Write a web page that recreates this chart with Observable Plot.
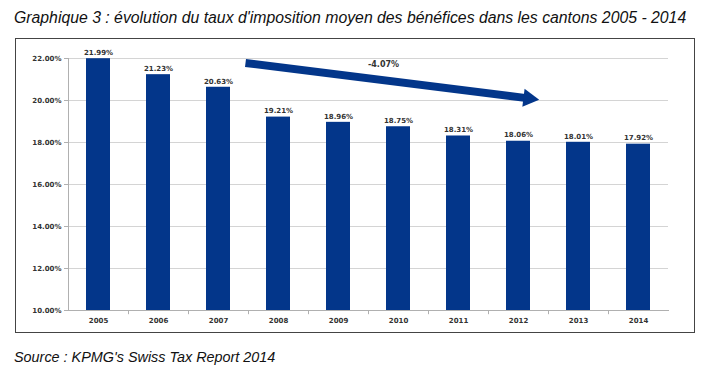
<!DOCTYPE html>
<html><head><meta charset="utf-8">
<script src="https://cdn.jsdelivr.net/npm/d3@7"></script>
<script src="https://cdn.jsdelivr.net/npm/@observablehq/plot@0.6"></script>
<style>
body{margin:0;background:#fff;font-family:"Liberation Sans",Arial,sans-serif;}
#title{position:absolute;left:14px;top:9px;font-size:15.8px;font-style:italic;color:#111;white-space:nowrap;}
#box{position:absolute;left:15px;top:38px;width:678px;height:293px;border:1px solid #444;}
#box svg{display:block;}
#caption{position:absolute;left:14px;top:349px;font-size:14.4px;font-style:italic;color:#111;white-space:nowrap;}
</style></head>
<body>
<div id="title">Graphique 3 : évolution du taux d'imposition moyen des bénéfices dans les cantons 2005 - 2014</div>
<div id="box"></div>
<div id="caption">Source : KPMG's Swiss Tax Report 2014</div>
<script>
const years = [2005, 2006, 2007, 2008, 2009, 2010, 2011, 2012, 2013, 2014];
const rates = [21.99, 21.23, 20.63, 19.21, 18.96, 18.75, 18.31, 18.06, 18.01, 17.92];
const yTicks = [10, 12, 14, 16, 18, 20, 22];
const trendLabel = "-4.07%";
const arrowStart = {year: 2007.45, value: 21.786};
const arrowEnd = {year: 2012.17, value: 20.10};
const labelPos = {year: 2009.75, value: 21.71};

const data = years.map((y, i) => ({year: y, value: rates[i]}));
const fmt = v => v.toFixed(2) + "%";
const barColor = "#03368a";
const bounds = years.slice(0, -1).map(y => y + 0.5);

const chart = Plot.plot({
  width: 678,
  height: 292,
  marginLeft: 52,
  marginRight: 26,
  marginTop: 19,
  marginBottom: 21,
  style: {fontFamily: "'DejaVu Sans', Verdana, sans-serif", fontSize: "7px", color: "#333", background: "#fff"},
  x: {type: "linear", domain: [years[0] - 0.5, years[years.length - 1] + 0.5]},
  y: {type: "linear", domain: [10, 22]},
  marks: [
    Plot.gridY(yTicks, {stroke: "#d4d4d4", strokeOpacity: 1}),
    Plot.rectY(data, {x1: d => d.year - 0.2, x2: d => d.year + 0.2, y1: () => 10, y2: "value", fill: barColor}),
    Plot.frame({anchor: "left", stroke: "#b0b0b0"}),
    Plot.frame({anchor: "bottom", stroke: "#b0b0b0"}),
    Plot.ruleX(bounds, {x: d => d, y1: () => 10, y2: () => 9.8, stroke: "#b0b0b0"}),
    Plot.axisY(yTicks, {tickFormat: fmt, tickSize: 4, tickPadding: 3, stroke: "#b0b0b0", fill: "#333", fontSize: 7, fontWeight: 600, label: null}),
    Plot.axisX(years, {tickFormat: d => String(d), tickSize: 0, tickPadding: 8, fill: "#333", fontSize: 7, fontWeight: 600, label: null}),
    Plot.text(data, {x: "year", y: "value", text: d => fmt(d.value), dy: -6, fill: "#333", fontSize: 7, fontWeight: 600}),
    Plot.link([arrowStart], {x1: "year", y1: "value", x2: () => arrowEnd.year, y2: () => arrowEnd.value, stroke: barColor, strokeWidth: 8}),
    Plot.dot([arrowEnd], {x: "year", y: "value", symbol: "triangle", r: 6.8, fill: barColor, stroke: "none", rotate: 97}),
    Plot.text([labelPos], {x: "year", y: "value", text: () => trendLabel, fill: "#333", fontSize: 8, fontWeight: 600})
  ]
});
document.getElementById("box").append(chart);
</script>
</body></html>
